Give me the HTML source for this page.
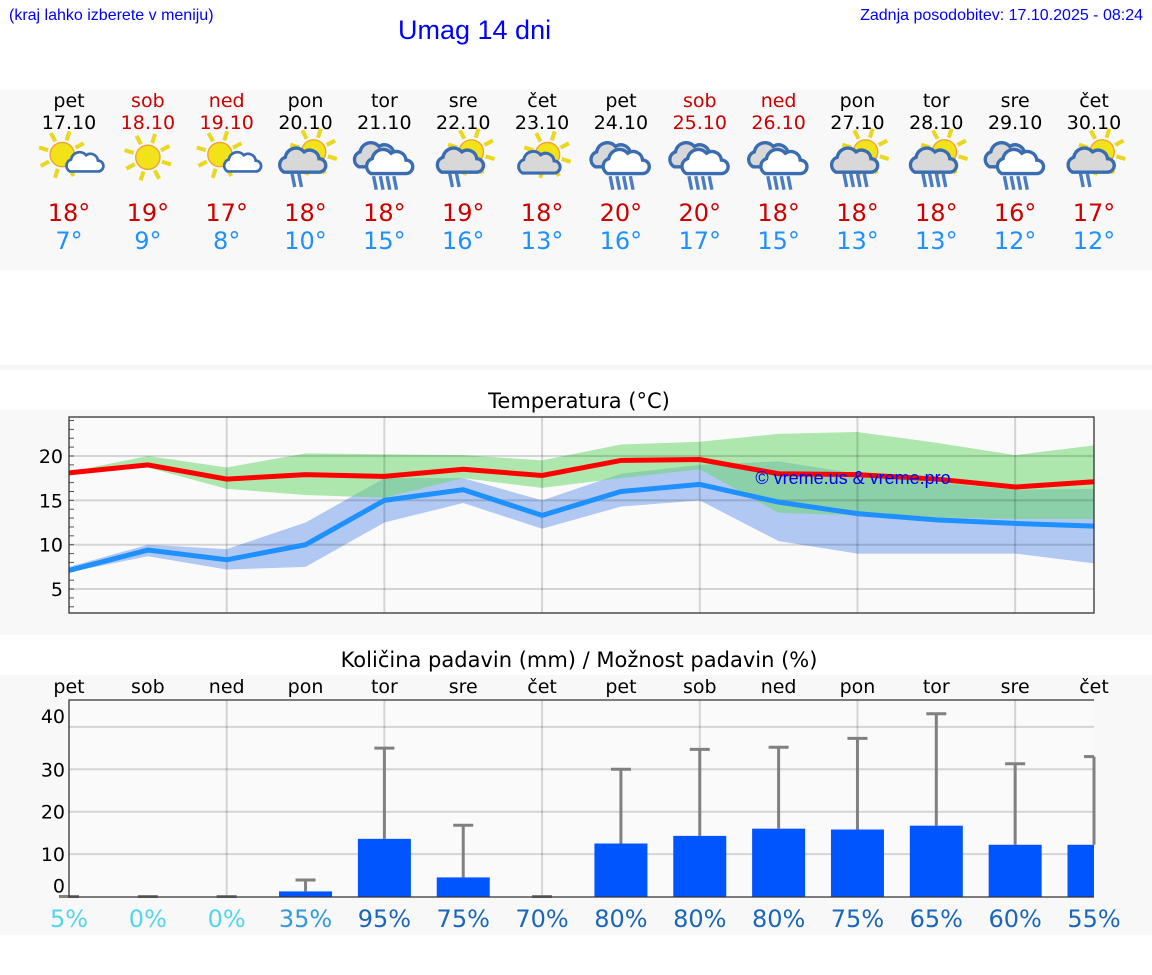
<!DOCTYPE html>
<html><head><meta charset="utf-8"><style>
body{margin:0;width:1152px;height:975px;background:#fff;position:relative;overflow:hidden;font-family:"DejaVu Sans","Liberation Sans",sans-serif}
.a{position:absolute}
</style></head><body>
<div class="a" style="left:9px;top:7px;font:16px 'Liberation Sans',sans-serif;color:#00f">(kraj lahko izberete v meniju)</div>
<div class="a" style="left:398px;top:15px;font:27px 'Liberation Sans',sans-serif;color:#00f">Umag 14 dni</div>
<div class="a" style="right:9px;top:7px;font:16px 'Liberation Sans',sans-serif;color:#00f">Zadnja posodobitev: 17.10.2025 - 08:24</div>
<svg id="s" width="1152" height="975" class="a" style="left:0;top:0">
<rect x="0" y="90" width="1152" height="180" fill="#f8f8f8"/>
<rect x="0" y="365" width="1152" height="5" fill="#f6f6f6"/>
<rect x="0" y="410" width="1152" height="225" fill="#f8f8f8"/>
<rect x="0" y="675" width="1152" height="260" fill="#f8f8f8"/>
<g id="g"></g>
</svg>
<script>
const days=["pet","sob","ned","pon","tor","sre","čet","pet","sob","ned","pon","tor","sre","čet"];
const dates=["17.10","18.10","19.10","20.10","21.10","22.10","23.10","24.10","25.10","26.10","27.10","28.10","29.10","30.10"];
const weekend=[0,1,1,0,0,0,0,0,1,1,0,0,0,0];
const icons=["sc","s","sc","scr","cr","scr","cs","cr","cr","cr","scr2","scr2","cr","scr"];
const tmax=[18.1,19,17.4,17.9,17.7,18.5,17.8,19.5,19.6,18,17.9,17.4,16.5,17.1];
const tmin=[7.1,9.4,8.3,10,15,16.2,13.3,16,16.8,14.8,13.5,12.8,12.4,12.1];
const maxHi=[18.2,20,18.7,20.3,20.2,20.1,19.5,21.3,21.6,22.5,22.7,21.5,20.1,21.2];
const maxLo=[17.9,18.7,16.3,15.6,15.3,17.5,16.4,17.5,18.5,13.6,13.3,13.1,12.9,12.9];
const minHi=[7.5,10,9.5,12.5,17.5,17.5,15,18,19,19.4,18,17,16.2,16.3];
const minLo=[6.9,8.7,7.2,7.5,12.5,14.7,11.8,14.3,15,10.4,9,9,9,7.9];
const labMax=[18,19,17,18,18,19,18,20,20,18,18,18,16,17];
const labMin=[7,9,8,10,15,16,13,16,17,15,13,13,12,12];
const tempTicks=[5,10,15,20];
const rain=[0,0,0,1.2,13.6,4.5,0,12.5,14.3,16,15.8,16.7,12.2,12.2];
const rainMax=[0,0,0,3.9,35,16.8,0,30,34.7,35.2,37.3,43.1,31.3,33];
const prob=[5,0,0,35,95,75,70,80,80,80,75,65,60,55];
const rainTicks=[0,10,20,30,40];

const NS="http://www.w3.org/2000/svg",G=document.getElementById('g');
function el(t,a,p){const e=document.createElementNS(NS,t);for(const k in a)e.setAttribute(k,a[k]);(p||G).appendChild(e);return e;}
function tx(x,y,s,a){const e=el('text',Object.assign({x:x,y:y,'text-anchor':'middle'},a));e.textContent=s;return e;}
const X=i=>69+i*(1094-69)/13;
const TY=v=>456-(v-20)*8.87;
const RY=v=>896.5-v*4.24;

days.forEach((d,i)=>{
  const c=weekend[i]?'#cc0000':'#000';
  let t=tx(X(i),107,d,{'font-size':19,fill:c});
  
  
  t=tx(X(i),129,dates[i],{'font-size':19,fill:c});
  
  
  t=tx(X(i),221,labMax[i]+'°',{'font-size':24,fill:'#cc0000'});
  
  
  t=tx(X(i),249,labMin[i]+'°',{'font-size':24,fill:'#1e90ff'});
  
  
  drawIcon(icons[i],X(i),160);
});
function sun(g,cx,cy,r){for(let k=0;k<8;k++){const a=k*Math.PI/4+0.3;el('line',{x1:cx+Math.cos(a)*(r+2),y1:cy+Math.sin(a)*(r+2),x2:cx+Math.cos(a)*(r+9),y2:cy+Math.sin(a)*(r+9),stroke:'#e8d820','stroke-width':3},g);}el('circle',{cx:cx,cy:cy,r:r,fill:'#f2e21a',stroke:'#f0a030','stroke-width':1},g);}
function cloud(g,cx,cy,s,fill){el('path',{d:`M${cx-13*s} ${cy+7*s} a6 6 0 0 1 1 -11 a8 8 0 0 1 14 -4 a7 7 0 0 1 11 5 a5 5 0 0 1 0 10 z`,fill:fill,stroke:'#3a6cb0','stroke-width':2.5,transform:`translate(${cx*(1-s)},${cy*(1-s)}) scale(${s})`},g);}
function drops(g,cx,cy,n){for(let k=0;k<n;k++)el('line',{x1:cx-6+k*5,y1:cy+10,x2:cx-8+k*5,y2:cy,stroke:'#4a7cc0','stroke-width':2.5},g);}
function drawIcon(t,cx,cy){
  const g=el('g',{transform:`translate(${cx},${cy}) scale(1.35) translate(${-cx},${-cy})`});
  
  
  if(t==='s'){sun(g,cx,cy-2,9);}
  else if(t==='sc'){sun(g,cx-5,cy-4,9);cloud(g,cx+9,cy+4,0.8,'#fff');}
  else if(t==='cs'){sun(g,cx+4,cy-4,9);cloud(g,cx-4,cy+4,0.9,'#d8d8d8');}
  else if(t==='scr'||t==='scr2'){sun(g,cx+6,cy-6,9);cloud(g,cx-3,cy+2,1,'#d8d8d8');drops(g,cx-2,cy+10,t==='scr2'?4:2);}
  else {cloud(g,cx-6,cy-2,1,'#d8d8d8');cloud(g,cx+3,cy+3,1,'#fff');drops(g,cx,cy+12,4);}
}

tx(579,408,'Temperatura (°C)',{'font-size':21,fill:'#000',});
el('rect',{x:69,y:417,width:1025,height:196,fill:'#fafafa'});
function band(hi,lo,col){let d='M'+hi.map((v,i)=>X(i)+' '+TY(v)).join('L');d+='L'+lo.map((v,i)=>X(i)+' '+TY(v)).reverse().join('L')+'Z';return el('path',{d:d,fill:col});}
let b=band(minHi,minLo,'#b0c8f2');


b=band(maxHi,maxLo,'rgba(110,215,110,0.55)');


tempTicks.forEach(v=>{el('line',{x1:69,x2:1094,y1:TY(v),y2:TY(v),stroke:'rgba(0,0,0,0.15)','stroke-width':2});const t=tx(63,TY(v)+7,v,{'font-size':19,'text-anchor':'end'});});
for(let v=3;v<=24;v++)el('line',{x1:69,x2:74,y1:TY(v),y2:TY(v),stroke:'#555'});
for(let i=2;i<13;i+=2)el('line',{x1:X(i),x2:X(i),y1:417,y2:613,stroke:'rgba(0,0,0,0.15)','stroke-width':2});
let l=el('polyline',{points:tmin.map((v,i)=>X(i)+','+TY(v)).join(' '),fill:'none',stroke:'#1e90ff','stroke-width':5});


l=el('polyline',{points:tmax.map((v,i)=>X(i)+','+TY(v)).join(' '),fill:'none',stroke:'#ff0000','stroke-width':5});


tx(853,484,'© vreme.us & vreme.pro',{'font-size':18,fill:'#0000ee','font-family':'Liberation Sans,sans-serif',});
el('rect',{x:69,y:417,width:1025,height:196,fill:'none',stroke:'#333','stroke-width':1.3});

tx(579,667,'Količina padavin (mm) / Možnost padavin (%)',{'font-size':21,fill:'#000',});
days.forEach((d,i)=>{const t=tx(X(i),693,d,{'font-size':19});});
el('rect',{x:69,y:700,width:1025,height:197,fill:'#fafafa'});
rainTicks.forEach(v=>{if(v>0)el('line',{x1:69,x2:1094,y1:RY(v),y2:RY(v),stroke:'rgba(0,0,0,0.15)','stroke-width':2});const off=(v===0||v===40)?-4:7;const t=tx(65,RY(v)+off,v,{'font-size':19,'text-anchor':'end'});});
for(let i=2;i<13;i+=2)el('line',{x1:X(i),x2:X(i),y1:700,y2:897,stroke:'rgba(0,0,0,0.15)','stroke-width':2});
rain.forEach((v,i)=>{
  if(v>0){const r=el('rect',{x:X(i)-26.5,y:RY(v),width:i==13?26.5:53,height:RY(0)-RY(v),fill:'#0055ff'});
  
  }
  const g=el('g',{stroke:'#808080','stroke-width':3});
  
  
  el('line',{x1:X(i),x2:X(i),y1:RY(v),y2:RY(rainMax[i])},g);
  el('line',{x1:X(i)-10,x2:Math.min(X(i)+10,1094),y1:RY(rainMax[i]),y2:RY(rainMax[i])},g);
  const c=prob[i]<30?'#55d5ea':prob[i]<50?'#3399dd':'#1a66bb';
  const t=tx(X(i),927,prob[i]+'%',{'font-size':24,fill:c});
  
  
});
el('polyline',{points:'1094,700 69,700 69,897 1094,897',fill:'none',stroke:'#333','stroke-width':1.3});
</script>
</body></html>
